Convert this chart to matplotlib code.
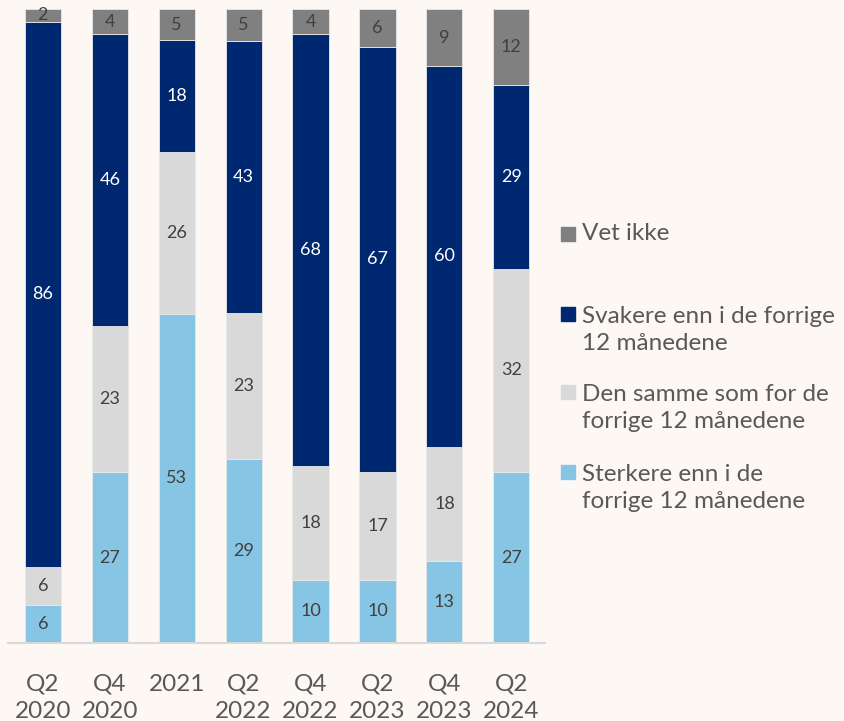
import matplotlib.pyplot as plt
import numpy as np
from matplotlib.patches import Rectangle

plt.rcParams['font.family'] = ['Lato', 'DejaVu Sans']

periods = ['Q2\n2020', 'Q4\n2020', '2021', 'Q2\n2022', 'Q4\n2022', 'Q2\n2023', 'Q4\n2023', 'Q2\n2024']
sterkere = [6, 27, 53, 29, 10, 10, 13, 27]
samme = [6, 23, 26, 23, 18, 17, 18, 32]
svakere = [86, 46, 18, 43, 68, 67, 60, 29]
vet_ikke = [2, 4, 5, 5, 4, 6, 9, 12]

series = [
    ('Sterkere enn i de\nforrige 12 månedene', sterkere, '#86c5e4', '#404040'),
    ('Den samme som for de\nforrige 12 månedene', samme, '#d9d9d9', '#404040'),
    ('Svakere enn i de forrige\n12 månedene', svakere, '#002870', 'white'),
    ('Vet ikke', vet_ikke, '#808080', '#404040'),
]

bg = '#fdf8f4'
txt = '#595959'

fig = plt.figure(figsize=(8.44, 7.21), dpi=100, facecolor=bg)
ax = fig.add_axes([0.0095, 0.108, 0.636, 0.8795])
ax.set_facecolor(bg)

x = np.arange(len(periods))
totals = np.sum([s[1] for s in series], axis=0)
bottom = np.zeros(len(periods))
for name, vals, color, lc in series:
    h = np.array(vals) / totals * 100
    ax.bar(x, h, 0.54, bottom=bottom, color=color, edgecolor='#e8e8e8', linewidth=0.6)
    for xi, b, hi, v in zip(x, bottom, h, vals):
        ax.text(xi, b + hi / 2, str(v), ha='center', va='center', fontsize=13, color=lc)
    bottom += h

ax.set_xlim(-0.52, 7.5)
ax.set_ylim(0, 100)
ax.set_xticks(x)
ax.set_xticklabels(periods, fontsize=17.5, color=txt, linespacing=1.35)
ax.tick_params(axis='x', length=0, pad=22)
ax.set_yticks([])
for sp in ['left', 'right', 'top']:
    ax.spines[sp].set_visible(False)
ax.spines['bottom'].set_color('#d9d9d9')
ax.spines['bottom'].set_linewidth(1.5)

# legend on the right, top to bottom
leg_y = [233, 330, 408, 488]
for (name, vals, color, lc), yy in zip(series[::-1], leg_y):
    fy = 1 - yy / 721
    first_line = fy + (0.0225 if '\n' in name else 0)
    fig.patches.append(Rectangle((561 / 844, first_line - 0.0105), 14 / 844, 14 / 721,
                                 transform=fig.transFigure, color=color))
    fig.text(582 / 844, fy, name, fontsize=17.5, color=txt, va='center', ha='left', linespacing=1.4)

fig.savefig('out.png', dpi=100, facecolor=bg)
